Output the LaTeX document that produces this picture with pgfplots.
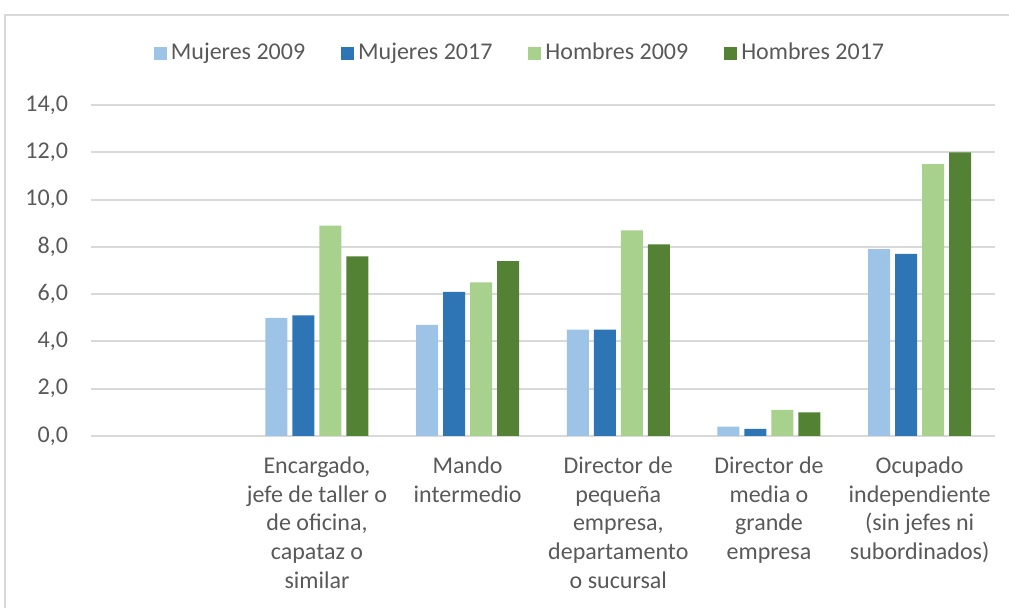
\documentclass[border=0pt]{standalone}
\usepackage{fontspec}
\setmainfont{Carlito}
\usepackage{pgfplots}
\pgfplotsset{compat=1.18}

\definecolor{mujA}{HTML}{9DC3E6}
\definecolor{mujB}{HTML}{2E75B6}
\definecolor{homA}{HTML}{A9D18E}
\definecolor{homB}{HTML}{548235}
\definecolor{gridc}{HTML}{D9D9D9}
\definecolor{txt}{HTML}{595959}
\definecolor{frame}{HTML}{D9D9D9}

\newcommand{\chartfont}{\fontsize{12}{14.3}\selectfont}

% x = category index (0 is the empty one)
\pgfplotstableread{
x  m09  m17  h09  h17
1  5.0  5.1  8.9  7.6
2  4.7  6.1  6.5  7.4
3  4.5  4.5  8.7  8.1
4  0.4  0.3  1.1  1.0
5  7.9  7.7  11.5 12.0
}\datos

\begin{document}
\begin{tikzpicture}
\path[use as bounding box] (-45.5pt,-86pt) rectangle (459pt,218pt);
\draw[frame, line width=0.75pt] (-43pt,-100pt) rectangle (470pt,210.5pt);
\begin{axis}[
  at={(0,0)}, anchor=south west,
  scale only axis,
  width=452pt, height=165.5pt,
  ybar=2.5pt, bar width=11pt,
  xmin=-0.5, xmax=5.5,
  ymin=0, ymax=14,
  ytick={0,2,...,14},
  xtick={1,2,3,4,5},
  xticklabels={
    {Encargado,\\jefe de taller o\\de oficina,\\capataz o\\similar},
    {Mando\\intermedio},
    {Director de\\pequeña\\empresa,\\departamento\\o sucursal},
    {Director de\\media o\\grande\\empresa},
    {Ocupado\\independiente\\(sin jefes ni\\subordinados)}},
  axis line style={draw=none},
  major tick length=0pt,
  ymajorgrids,
  grid style={gridc, line width=1pt},
  tick label style={font=\chartfont, text=txt},
  xticklabel style={align=center, yshift=-7pt},
  yticklabel style={xshift=-8pt},
  yticklabel style={/pgf/number format/.cd, use comma, fixed, fixed zerofill, precision=1, assume math mode=true},
  legend columns=4,
  legend style={at={(0.4757,1.157)}, anchor=center, draw=none, fill=none,
    font=\chartfont, text=txt,
    /tikz/every even column/.append style={column sep=16pt}},
  legend image code/.code={\fill[#1] (0pt,-3.25pt) rectangle (6.5pt,3.25pt);},
]
\addplot[fill=mujA, draw=none] table[x=x, y=m09] {\datos};
\addplot[fill=mujB, draw=none] table[x=x, y=m17] {\datos};
\addplot[fill=homA, draw=none] table[x=x, y=h09] {\datos};
\addplot[fill=homB, draw=none] table[x=x, y=h17] {\datos};
\legend{Mujeres 2009, Mujeres 2017, Hombres 2009, Hombres 2017}
\end{axis}
\end{tikzpicture}
\end{document}
